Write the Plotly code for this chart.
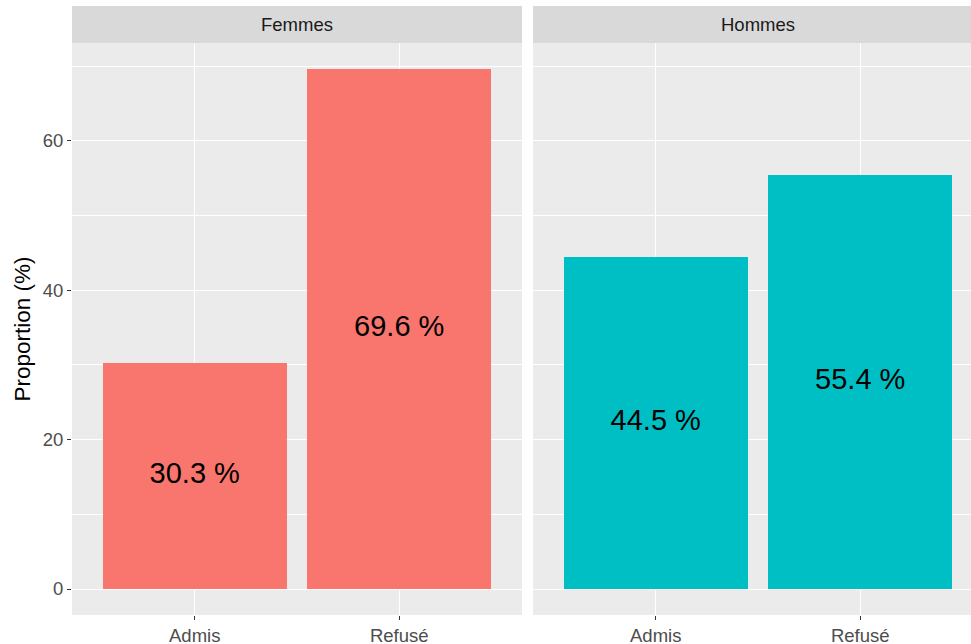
"""Admission par sexe - barres facettées façon ggplot"""
import plotly.graph_objects as go

categories = ["Admis", "Refusé"]
femmes = [30.3, 69.6]
hommes = [44.5, 55.4]
facets = ["Femmes", "Hommes"]
colors = ["#F8766D", "#00BFC4"]

FONT = "Liberation Sans, Arial"

fig = go.Figure()

for i, (vals, col) in enumerate(zip([femmes, hommes], colors)):
    xa = "x" if i == 0 else "x2"
    fig.add_trace(go.Bar(
        x=categories, y=vals, marker_color=col, marker_line_width=0,
        width=0.9, xaxis=xa, yaxis="y", showlegend=False, hoverinfo="skip"
    ))
    # labels at mid height of each bar
    fig.add_trace(go.Scatter(
        x=categories, y=[v / 2 for v in vals],
        text=[f"{v:.1f} %" for v in vals], mode="text",
        textfont=dict(size=29, color="black", family=FONT),
        xaxis=xa, yaxis="y", showlegend=False, hoverinfo="skip"
    ))

# panel 2 runs past the right edge in the original, so its range is cropped
W = 971 - 72
d1 = 450 / W
d2 = 461 / W
x2_hi = -0.6 + 2.2 * (W - 461) / 450
strip_top = 1 + 37 / 572

xcommon = dict(
    type="category", showgrid=True, gridcolor="white",
    gridwidth=1.4, ticks="outside", ticklen=4, tickcolor="#333333",
    tickwidth=1.1, showline=False, zeroline=False, automargin=False,
    tickfont=dict(size=18.5, color="#4D4D4D", family=FONT),
)

fig.update_layout(
    width=971, height=644,
    margin=dict(l=72, r=0, t=43, b=29),
    paper_bgcolor="white", plot_bgcolor="#EBEBEB",
    font=dict(family=FONT, color="#1A1A1A"),
    xaxis=dict(domain=[0, d1], range=[-0.6, 1.6], **xcommon),
    xaxis2=dict(domain=[d2, 1], range=[-0.6, x2_hi], **xcommon),
    yaxis=dict(
        range=[-3.48, 73.08], tickvals=[0, 20, 40, 60], showgrid=True,
        gridcolor="white", gridwidth=1.4, zeroline=False, automargin=False,
        ticks="outside", ticklen=4, tickcolor="#333333", tickwidth=1.1,
        tickfont=dict(size=18.5, color="#4D4D4D", family=FONT),
        minor=dict(tickvals=[10, 30, 50, 70], showgrid=True,
                   gridcolor="white", gridwidth=0.7),
        title=dict(text="Proportion (%)",
                   font=dict(size=22.5, color="black", family=FONT),
                   standoff=5),
    ),
    bargap=0,
)

# panel background of the second facet and strips
fig.add_shape(type="rect", xref="paper", yref="paper", x0=d2, x1=1, y0=0, y1=1,
              fillcolor="#EBEBEB", line_width=0, layer="below")
for x0, x1, cx, lab in [(0, d1, d1 / 2, facets[0]),
                        (d2, 1, d2 + d1 / 2, facets[1])]:
    fig.add_shape(type="rect", xref="paper", yref="paper", x0=x0, x1=x1,
                  y0=1, y1=strip_top, fillcolor="#D9D9D9", line_width=0)
    fig.add_annotation(x=cx, y=(1 + strip_top) / 2, xref="paper",
                       yref="paper", text=lab, showarrow=False,
                       xanchor="center", yanchor="middle",
                       font=dict(size=18.5, color="#1A1A1A", family=FONT))

fig.write_html("out.html", config={"displayModeBar": False},
               post_script="document.body.style.margin='0';")
